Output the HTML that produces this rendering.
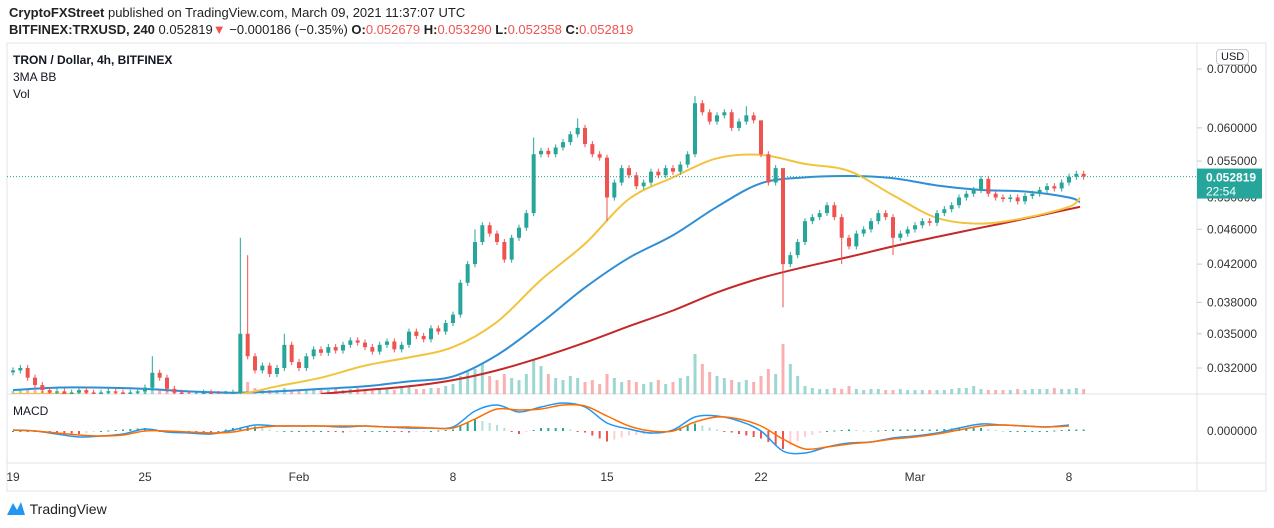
<!DOCTYPE html>
<html><head><meta charset="utf-8">
<style>
body{margin:0;width:1274px;height:528px;background:#fff;overflow:hidden;font-family:"Liberation Sans",sans-serif;color:#131722}
.t{position:absolute;white-space:nowrap}
</style></head><body>
<div class="t" style="left:9px;top:5px;font-size:13px;color:#222"><b>CryptoFXStreet</b> published on TradingView.com, March 09, 2021 11:37:07 UTC</div>
<div class="t" style="left:9px;top:22px;font-size:13px;color:#222"><b>BITFINEX:TRXUSD, 240</b> 0.052819<span style="color:#ef5350">▼</span> −0.000186 (−0.35%) <b>O:</b><span style="color:#ef5350">0.052679</span> <b>H:</b><span style="color:#ef5350">0.053290</span> <b>L:</b><span style="color:#ef5350">0.052358</span> <b>C:</b><span style="color:#ef5350">0.052819</span></div>
<svg id="c" width="1274" height="528" style="position:absolute;left:0;top:0"></svg>
<div class="t" style="left:13px;top:53px;font-size:12px;font-weight:bold">TRON / Dollar, 4h, BITFINEX</div>
<div class="t" style="left:13px;top:70px;font-size:12px">3MA BB</div>
<div class="t" style="left:13px;top:87px;font-size:12px">Vol</div>
<div class="t" style="left:13px;top:404px;font-size:12px">MACD</div>
<div class="t" style="left:1216px;top:49px;font-size:11px;border:1px solid #ccc;border-radius:4px;padding:1px 4px;background:#fff">USD</div>
<div class="t" style="left:6px;top:499px;font-size:14px;color:#222"><svg width="20" height="18" viewBox="0 0 20 18" style="vertical-align:-3px"><path d="M1 16 L7 4 L11 11 L15 3 L19 16 Z" fill="#2196f3"/></svg> TradingView</div>
<script>
const NS='http://www.w3.org/2000/svg';
const svg=document.getElementById('c');
// ---- data ----
const closes=[0.0318,0.0320,0.0312,0.0306,0.0302,0.0300,0.0301,0.0299,0.0300,0.0302,0.0300,0.0299,0.0300,0.0301,0.0300,0.0299,0.0300,0.0301,
0.0304,0.0316,0.0312,0.0303,0.0300,0.0299,0.0298,0.0299,0.0300,0.0299,0.0298,0.0299,0.0300,
0.0350,0.0330,0.0318,0.0322,0.0315,0.0320,0.0340,0.0325,0.0320,0.0330,0.0336,0.0333,0.0338,0.0335,0.0340,0.0344,0.0342,0.0338,0.0334,0.0340,0.0343,0.0336,0.0340,0.0352,0.0348,0.0345,0.0355,0.0352,0.0360,
0.0368,0.0400,0.0420,0.0445,0.0465,0.0455,0.0445,0.0425,0.0450,0.0462,0.0480,
0.0560,0.0565,0.0560,0.0570,0.0578,0.0590,0.0600,0.0575,0.0560,0.0555,0.0500,0.0520,0.0540,0.0530,0.0515,0.0520,0.0535,0.0530,0.0540,0.0535,0.0545,0.0560,
0.0640,0.0625,0.0610,0.0620,0.0625,0.0600,0.0610,0.0620,0.0612,0.0560,0.0520,0.0540,0.0420,0.0430,0.0445,0.0470,0.0475,0.0480,0.0490,0.0475,0.0450,0.0440,0.0455,0.0460,0.0470,0.0480,0.0475,0.0450,0.0455,0.0460,0.0465,0.0470,0.0468,0.0480,0.0485,0.0490,0.0500,0.0505,0.0510,0.0525,0.0505,0.0500,0.0498,0.0500,0.0495,0.0502,0.0505,0.0510,0.0515,0.0512,0.0520,0.0528,0.0532,0.052819];
const spikeHighs={19:0.0330,31:0.0450,32:0.0430,37:0.0350,63:0.0460,71:0.0585,77:0.0615,93:0.0652,100:0.0635,102:0.0600,105:0.0460};
const spikeLows={81:0.0470,105:0.0375,113:0.0420,120:0.0430};
const volumes=[3,4,5,4,3,2,2,2,2,3,2,2,2,3,2,2,2,2,3,8,5,3,2,2,2,2,2,2,2,3,2,15,12,6,5,4,4,6,4,3,4,5,4,4,5,4,5,6,5,4,4,5,4,6,7,5,5,6,6,8,10,18,22,25,30,18,14,20,16,14,20,35,28,20,16,14,18,16,12,14,10,20,16,12,14,12,10,12,14,10,12,16,18,40,30,22,18,16,14,12,14,12,18,25,20,50,30,18,8,6,5,5,6,5,8,5,4,5,5,4,4,5,4,4,4,4,4,4,5,6,6,8,5,4,4,4,4,5,4,5,5,5,6,5,5,6,5];
const maDays=[0,2,4,6,8,10,12,14,16,18,20,22,24,26,28,30,32,34,36,38,40,42,44,46,48,48.5];
const maFast=[0.0299,0.0299,0.0298,0.0298,0.0298,0.0298,0.0305,0.0312,0.0322,0.0329,0.0338,0.0361,0.0403,0.0443,0.0498,0.0527,0.0554,0.0559,0.0546,0.0536,0.0503,0.0474,0.0467,0.0474,0.0488,0.0500];
const maMid=[0.0302,0.0304,0.0304,0.0303,0.0301,0.0300,0.0301,0.0303,0.0305,0.0309,0.0313,0.0331,0.0360,0.0395,0.0427,0.0453,0.0488,0.0519,0.0527,0.0529,0.0526,0.0516,0.0510,0.0508,0.0500,0.0494];
const maSlow=[null,null,null,null,null,null,null,0.0299,0.0302,0.0305,0.0310,0.0318,0.0329,0.0342,0.0357,0.0372,0.0390,0.0405,0.0417,0.0428,0.0440,0.0451,0.0462,0.0473,0.0485,0.0488];
const macdLine=[1,0,-3,-6,-5,-3,2,-1,-2,-3,1,6,5,5,5,4,5,4,3,3,4,20,26,19,24,28,24,8,2,-2,1,14,15,10,0,-20,-22,-16,-12,-11,-7,-5,-2,3,7,6,5,4,6];
const signalLine=[1,0,-2,-4,-5,-4,0,0,-1,-2,-1,3,5,5,5,5,5,4,4,3,3,12,22,21,22,26,25,15,5,0,0,9,14,12,5,-8,-18,-16,-13,-11,-8,-6,-3,1,5,6,5,4,5];
const priceTicks=[0.070,0.060,0.055,0.050,0.046,0.042,0.038,0.035,0.032];
const dateTicks=[{d:0,l:'19'},{d:6,l:'25'},{d:13,l:'Feb'},{d:20,l:'8'},{d:27,l:'15'},{d:34,l:'22'},{d:41,l:'Mar'},{d:48,l:'8'}];
// ---- scales ----
const X0=13,PXD=22,MT=44,MB=394,MAT=395,MAB=463;
const xDay=d=>X0+d*PXD;
const xBar=i=>X0+i*PXD/3;
const yP=p=>368-382*Math.log(p/0.032);
const MZ=431,MS=1.0;
const yM=v=>MZ-v*MS;
function el(t,a,p){const e=document.createElementNS(NS,t);for(const k in a)e.setAttribute(k,a[k]);(p||svg).appendChild(e);return e;}
function smooth(pts){
 if(!pts.length)return '';
 let d='M'+pts[0][0].toFixed(1)+' '+pts[0][1].toFixed(1);
 for(let i=0;i<pts.length-1;i++){
  const p0=pts[i-1]||pts[i],p1=pts[i],p2=pts[i+1],p3=pts[i+2]||p2;
  const c1=[p1[0]+(p2[0]-p0[0])/6,p1[1]+(p2[1]-p0[1])/6],c2=[p2[0]-(p3[0]-p1[0])/6,p2[1]-(p3[1]-p1[1])/6];
  d+='C'+c1[0].toFixed(1)+' '+c1[1].toFixed(1)+' '+c2[0].toFixed(1)+' '+c2[1].toFixed(1)+' '+p2[0].toFixed(1)+' '+p2[1].toFixed(1);
 }
 return d;
}
// frame
const frame=el('g',{});


el('rect',{x:7,y:43,width:1259,height:448,fill:'none',stroke:'#e0e3eb'},frame);
el('line',{x1:1197,y1:43,x2:1197,y2:491,stroke:'#e0e3eb'},frame);
el('line',{x1:7,y1:394,x2:1266,y2:394,stroke:'#e0e3eb'},frame);
el('line',{x1:7,y1:463,x2:1266,y2:463,stroke:'#e0e3eb'},frame);
const defs=el('defs',{});
const cp=el('clipPath',{id:'mc'},defs);el('rect',{x:7,y:MT,width:1190,height:MB-MT},cp);
const cp2=el('clipPath',{id:'dc'},defs);el('rect',{x:7,y:MAT,width:1190,height:MAB-MAT},cp2);
const main=el('g',{'clip-path':'url(#mc)'});
priceTicks.forEach(p=>{
 const t=el('text',{x:1207,y:yP(p)+4,'font-size':12,fill:'#333','font-family':'Liberation Sans'});
 t.textContent=p.toFixed(6);
 
 
 el('line',{x1:1197,y1:yP(p),x2:1202,y2:yP(p),stroke:'#ccc'});
});
{const t=el('text',{x:1207,y:yM(0)+4,'font-size':12,fill:'#333','font-family':'Liberation Sans'});t.textContent='0.000000';

}
dateTicks.forEach(o=>{
 const t=el('text',{x:xDay(o.d),y:481,'font-size':12,fill:'#333','text-anchor':'middle','font-family':'Liberation Sans'});
 t.textContent=o.l;
 
 
});
// volume
volumes.forEach((v,i)=>{
 if(i>=closes.length)return;
 const o=i?closes[i-1]:closes[0],c=closes[i];
 const r=el('rect',{x:xBar(i)-1.5,y:MB-v,width:3,height:v,fill:c>=o?'rgba(38,166,154,0.45)':'rgba(239,83,80,0.45)'},main);
 
 
});
// MAs
function maPath(arr,color,name){
 const pts=[];arr.forEach((v,i)=>{if(v==null)return;pts.push([xDay(maDays[i]),yP(v)]);});
 const p=el('path',{d:smooth(pts),fill:'none',stroke:color,'stroke-width':2,'stroke-linejoin':'round'},main);
 
 
}
maPath(maSlow,'#c62828','ma-slow-line');
maPath(maMid,'#2f8fd6','ma-mid-line');
maPath(maFast,'#f2c43d','ma-fast-line');
// candles
closes.forEach((c,i)=>{
 const o=i?closes[i-1]:c*0.995;
 const hi=spikeHighs[i]||Math.max(o,c)*1.008, lo=spikeLows[i]||Math.min(o,c)*0.992;
 const col=c>=o?'#26a69a':'#ef5350';
 const g=el('g',{},main);
 
 
 const x=xBar(i);
 el('line',{x1:x,y1:yP(hi),x2:x,y2:yP(lo),stroke:col,'stroke-width':1},g);
 const y1=yP(Math.max(o,c)),y2=yP(Math.min(o,c));
 el('rect',{x:x-2,y:y1,width:4,height:Math.max(1,y2-y1),fill:col},g);
});
// last price line & label
const last=closes[closes.length-1];
el('line',{x1:7,y1:yP(last),x2:1197,y2:yP(last),stroke:'#26a69a','stroke-dasharray':'1 2'});
const lb=el('g',{});


el('rect',{x:1197,y:yP(last)-8,width:65,height:30,fill:'#26a69a'},lb);
const t1=el('text',{x:1206,y:yP(last)+5,'font-size':12,'font-weight':'bold',fill:'#fff','font-family':'Liberation Sans'},lb);t1.textContent=last.toFixed(6);
const t2=el('text',{x:1206,y:yP(last)+19,'font-size':12,fill:'#fff','font-family':'Liberation Sans'},lb);t2.textContent='22:54';
// MACD
const dg=el('g',{'clip-path':'url(#dc)'});
function interp(arr,d){const i=Math.floor(d);if(i>=arr.length-1)return arr[arr.length-1];const f=d-i;return arr[i]*(1-f)+arr[i+1]*f;}
for(let i=0;i<closes.length;i++){
 const d=i/3;const h=(interp(macdLine,d)-interp(signalLine,d))*1.5;
 const hp=i?(interp(macdLine,(i-1)/3)-interp(signalLine,(i-1)/3))*1.5:h;
 const col=h>=0?(h>=hp?'#26a69a':'#b2dfdb'):(h<=hp?'#ef5350':'#ffcdd2');
 const r=el('rect',{x:xBar(i)-1,y:Math.min(yM(0),yM(h)),width:2,height:Math.max(1,Math.abs(h)),fill:col},dg);
 
 
}
function mLine(arr,color,name){
 const pts=arr.map((v,i)=>[xDay(i),yM(v)]);
 const p=el('path',{d:smooth(pts),fill:'none',stroke:color,'stroke-width':1.5},dg);
 
 
}
mLine(macdLine,'#2196f3','macd-line');
mLine(signalLine,'#ff6d00','signal-line');
</script>
</body></html>
